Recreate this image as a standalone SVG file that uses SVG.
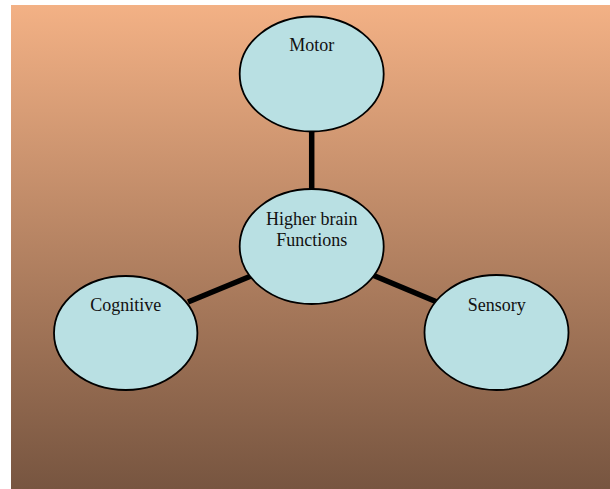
<svg xmlns="http://www.w3.org/2000/svg" width="610" height="489" viewBox="0 0 610 489">
  <defs>
    <linearGradient id="bg" x1="0" y1="0" x2="0" y2="1">
      <stop offset="0" stop-color="#F3B185"/>
      <stop offset="1" stop-color="#775540"/>
    </linearGradient>
  </defs>
  <style>
    .node ellipse { fill: #B9E0E3; stroke: #000; stroke-width: 1.8; }
    .node text { font-family: "Liberation Serif", "Times New Roman", serif; font-size: 18px; fill: #111; text-anchor: middle; }
    .edges line { stroke: #000; stroke-width: 5.5; }
  </style>
  <rect x="11" y="5" width="599" height="484" fill="url(#bg)"/>
  <g class="edges">
    <line x1="311.7" y1="130" x2="311.7" y2="190"/>
    <line x1="251" y1="276" x2="188" y2="302"/>
    <line x1="372.5" y1="275" x2="437" y2="302"/>
  </g>
  <g id="motor" class="node">
    <ellipse cx="311.7" cy="74" rx="72" ry="57.5"/>
    <text x="311.7" y="51">Motor</text>
  </g>
  <g id="higher" class="node">
    <ellipse cx="311.7" cy="246.5" rx="72" ry="57.5"/>
    <text x="311.7" y="225">Higher brain</text>
    <text x="311.7" y="246">Functions</text>
  </g>
  <g id="cognitive" class="node">
    <ellipse cx="125.7" cy="333" rx="71.7" ry="57"/>
    <text x="125.7" y="310.7">Cognitive</text>
  </g>
  <g id="sensory" class="node">
    <ellipse cx="496.5" cy="332.5" rx="72" ry="57.5"/>
    <text x="496.8" y="310.7">Sensory</text>
  </g>
</svg>
